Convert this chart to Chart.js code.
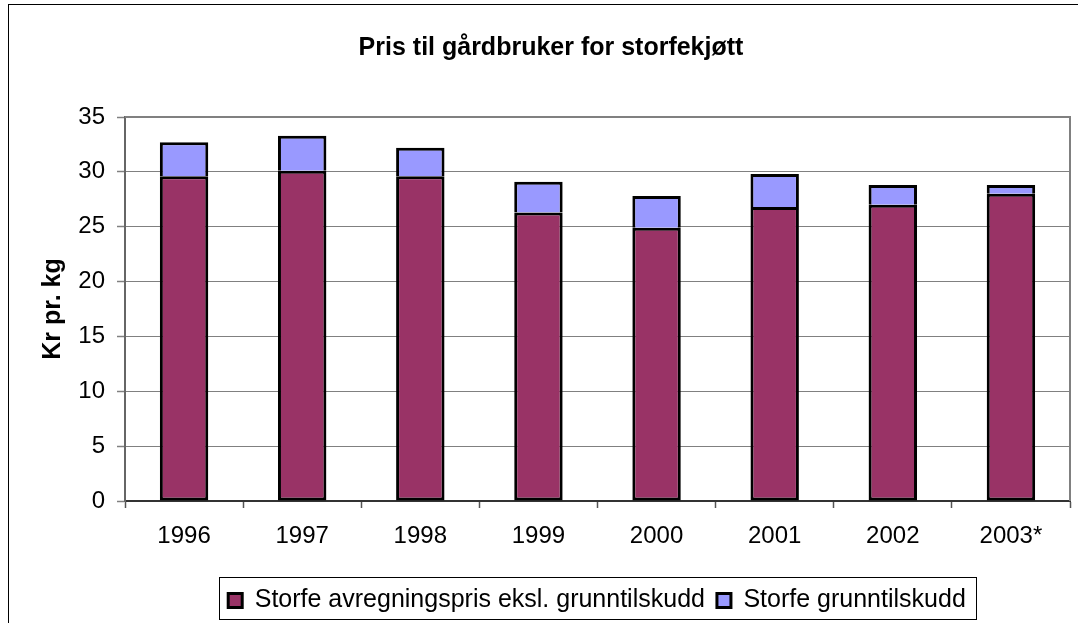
<!DOCTYPE html>
<html>
<head>
<meta charset="utf-8">
<script src="https://cdn.jsdelivr.net/npm/chart.js@4/dist/chart.umd.min.js"></script>
<style>
  html, body { margin: 0; padding: 0; background: #ffffff; }
  #wrap { width: 1078px; height: 623px; position: relative; }
</style>
</head>
<body>
<div id="wrap"><canvas id="c" width="1078" height="623"></canvas></div>
<script>
const categories = ['1996', '1997', '1998', '1999', '2000', '2001', '2002', '2003*'];
const avregningspris = [29.6, 30.1, 29.6, 26.3, 24.9, 26.8, 27.0, 28.0];
const grunntilskudd = [3.1, 3.2, 2.6, 2.8, 2.9, 3.0, 1.8, 0.8];
const seriesNames = ['Storfe avregningspris eksl. grunntilskudd', 'Storfe grunntilskudd'];
const yTicks = [0, 5, 10, 15, 20, 25, 30, 35];
const chartTitle = 'Pris til gårdbruker for storfekjøtt';
const yTitle = 'Kr pr. kg';

const FONT = "'Liberation Sans', Arial, sans-serif";

const framePlugin = {
  id: 'frame',
  afterLayout(chart) {
    const lg = chart.legend;
    if (lg) {
      lg.left = 124;
      lg.right = 1070;
      lg.width = lg.right - lg.left;
    }
  },
  beforeDraw(chart) {
    const ctx = chart.ctx;
    ctx.save();
    ctx.fillStyle = '#ffffff';
    ctx.fillRect(0, 0, chart.width, chart.height);
    ctx.strokeStyle = '#000000';
    ctx.lineWidth = 1;
    ctx.strokeRect(8.5, 4.5, chart.width + 20, chart.height + 20);
    ctx.restore();
  },
  afterDatasetsDraw(chart) {
    const ctx = chart.ctx;
    const a = chart.chartArea;
    ctx.save();
    ctx.strokeStyle = '#808080';
    ctx.lineWidth = 2;
    ctx.beginPath();
    ctx.moveTo(a.left, a.top);
    ctx.lineTo(a.right, a.top);
    ctx.lineTo(a.right, a.bottom);
    ctx.stroke();
    ctx.restore();
  },
  afterDraw(chart) {
    const lg = chart.legend;
    if (!lg || !lg.legendHitBoxes || !lg.legendHitBoxes.length) return;
    const hb = lg.legendHitBoxes;
    let l = Infinity, r = -Infinity, t = Infinity, b = -Infinity;
    hb.forEach(h => { l = Math.min(l, h.left); r = Math.max(r, h.left + h.width); t = Math.min(t, h.top); b = Math.max(b, h.top + h.height); });
    const ctx = chart.ctx;
    ctx.save();
    ctx.strokeStyle = '#000000';
    ctx.lineWidth = 1;
    ctx.strokeRect(Math.round(l - 9) + 0.5, Math.round(t - 11) + 0.5, Math.round(r - l + 19), Math.round(b - t + 17));
    ctx.restore();
  }
};

new Chart(document.getElementById('c'), {
  type: 'bar',
  data: {
    labels: categories,
    datasets: [
      {
        label: seriesNames[0],
        data: avregningspris,
        backgroundColor: '#993366',
        borderColor: '#000000',
        borderWidth: 3,
        borderSkipped: false,
        barPercentage: 0.41,
        categoryPercentage: 1.0
      },
      {
        label: seriesNames[1],
        data: grunntilskudd,
        backgroundColor: '#9999FF',
        borderColor: '#000000',
        borderWidth: 3,
        borderSkipped: 'start',
        barPercentage: 0.41,
        categoryPercentage: 1.0
      }
    ]
  },
  options: {
    responsive: false,
    animation: false,
    devicePixelRatio: 1,
    layout: { padding: { left: 32, right: 8, top: 0, bottom: 0 } },
    plugins: {
      title: {
        display: true,
        text: chartTitle,
        color: '#000000',
        font: { family: FONT, size: 25, weight: 'bold', lineHeight: 1.2 },
        padding: { top: 33, bottom: 54 }
      },
      legend: {
        display: true,
        position: 'bottom',
        labels: {
          color: '#000000',
          font: { family: FONT, size: 25 },
          boxWidth: 14,
          boxHeight: 14,
          padding: 12
        }
      },
      tooltip: { enabled: false }
    },
    scales: {
      x: {
        stacked: true,
        grid: {
          display: true,
          offset: true,
          drawOnChartArea: false,
          drawTicks: true,
          tickLength: 7,
          tickColor: '#555555',
          tickWidth: 1.5
        },
        border: { display: true, color: '#333333', width: 2 },
        ticks: {
          color: '#000000',
          font: { family: FONT, size: 24 },
          padding: 14,
          maxRotation: 0,
          autoSkip: false
        },
        afterFit(s) { s.height = 75; }
      },
      y: {
        stacked: true,
        min: 0,
        max: 35,
        afterBuildTicks(s) { s.ticks = yTicks.map(v => ({ value: v })); },
        grid: {
          color: '#808080',
          lineWidth: 1,
          tickLength: 8,
          tickColor: '#808080',
          tickWidth: 1.5
        },
        border: { display: true, color: '#666666', width: 2 },
        ticks: {
          color: '#000000',
          font: { family: FONT, size: 24 },
          padding: 12
        },
        title: {
          display: true,
          text: yTitle,
          color: '#000000',
          font: { family: FONT, size: 25, weight: 'bold', lineHeight: 1.2 },
          padding: { top: 6, bottom: 0 }
        },
        afterFit(s) { s.width = 93; }
      }
    }
  },
  plugins: [framePlugin]
});
</script>
</body>
</html>
